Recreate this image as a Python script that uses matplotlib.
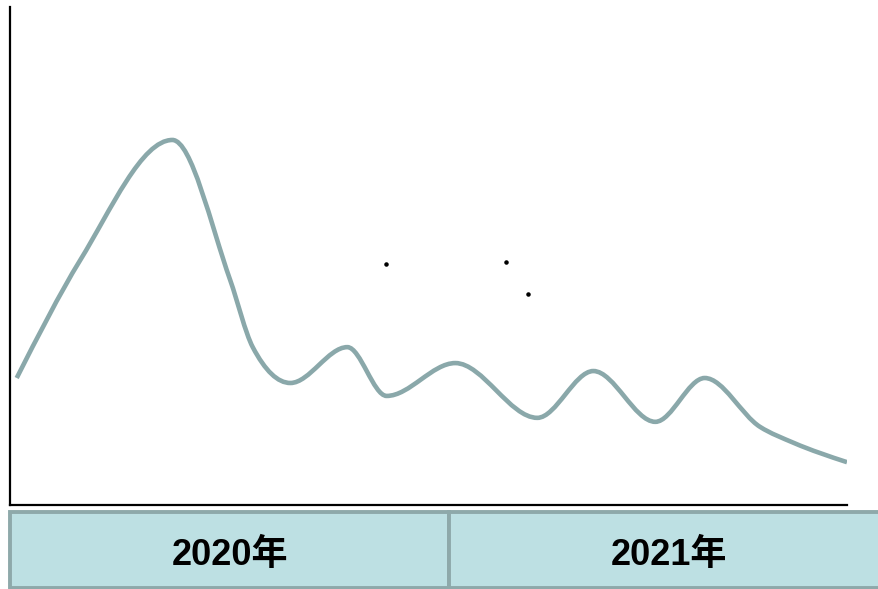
import matplotlib.pyplot as plt
import numpy as np
from matplotlib.path import Path
from matplotlib.patches import PathPatch, Rectangle

# series values (x: position along the time axis, y: level)
xs = [0.8, 8.4, 19.4, 26.3, 29.0, 33.5, 40.3, 45.0,
      53.2, 63.0, 69.7, 77.1, 83.0, 89.6, 93.6, 100.0]
ys = [25.5, 49.2, 73.3, 45.2, 31.7, 24.5, 31.7, 21.9,
      28.5, 17.5, 26.9, 16.7, 25.5, 15.7, 12.5, 8.6]

# scattered markers
dot_x = [44.9, 59.3, 61.9]
dot_y = [48.4, 48.8, 42.4]

years = ["2020年", "2021年"]

line_color = "#8aa8aa"
box_fill = "#bde0e3"
box_edge = "#8ea9aa"


def monotone_path(x, y):
    # monotone cubic (d3 curveMonotoneX style) as a bezier path
    x = np.asarray(x, float)
    y = np.asarray(y, float)
    h = np.diff(x)
    s = np.diff(y) / h
    t = np.zeros(len(x))
    for i in range(1, len(x) - 1):
        p = (s[i - 1] * h[i] + s[i] * h[i - 1]) / (h[i - 1] + h[i])
        t[i] = (np.sign(s[i - 1]) + np.sign(s[i])) * min(abs(s[i - 1]), abs(s[i]), 0.5 * abs(p))
    t[0] = (3 * s[0] - t[1]) / 2
    t[-1] = (3 * s[-1] - t[-2]) / 2
    verts = [(x[0], y[0])]
    codes = [Path.MOVETO]
    for i in range(len(x) - 1):
        d = h[i] / 3
        verts += [(x[i] + d, y[i] + d * t[i]),
                  (x[i + 1] - d, y[i + 1] - d * t[i + 1]),
                  (x[i + 1], y[i + 1])]
        codes += [Path.CURVE4] * 3
    return Path(verts, codes)


W, H = 879, 589
fig = plt.figure(figsize=(W / 100, H / 100), dpi=100)

ax = fig.add_axes([10 / W, 84 / H, 837 / W, 498 / H])
ax.set_xlim(0, 100)
ax.set_ylim(0, 100)
ax.add_patch(PathPatch(monotone_path(xs, ys), facecolor="none",
                       edgecolor=line_color, lw=3.3, capstyle="butt"))
ax.scatter(dot_x, dot_y, s=5, color="black", zorder=3)
for side in ("top", "right"):
    ax.spines[side].set_visible(False)
for side in ("left", "bottom"):
    ax.spines[side].set_linewidth(1.6)
    ax.spines[side].set_color("black")
ax.set_xticks([])
ax.set_yticks([])

# year band along the bottom
band = fig.add_axes([0, 0, 1, 1])
band.set_xlim(0, W)
band.set_ylim(H, 0)
band.axis("off")
edges = [10, 449.5, 888]
for i, label in enumerate(years):
    x0, x1 = edges[i], edges[i + 1]
    band.add_patch(Rectangle((x0, 512), x1 - x0, 75.5, facecolor=box_fill,
                             edgecolor=box_edge, lw=2.8))
    band.text((x0 + x1) / 2, 555, label, ha="center", va="center",
              fontsize=26, fontweight="bold",
              family=["Liberation Sans", "Noto Sans CJK SC"])

fig.savefig("out.png", dpi=100)
